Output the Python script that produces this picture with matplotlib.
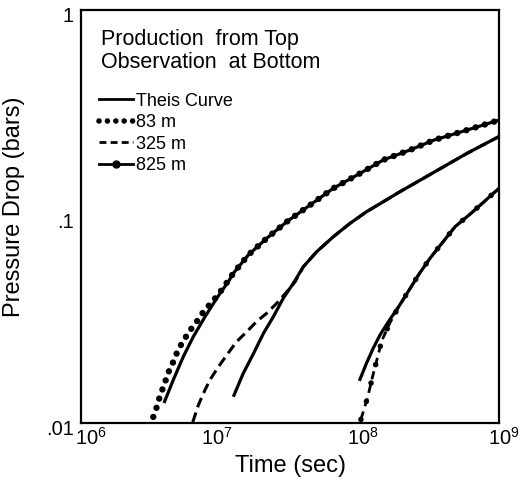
import matplotlib.pyplot as plt
from matplotlib.lines import Line2D
from matplotlib.legend_handler import HandlerTuple
from matplotlib.transforms import ScaledTranslation

plt.rcParams["font.family"] = ["Liberation Sans", "DejaVu Sans"]
plt.rcParams["mathtext.fontset"] = "custom"
plt.rcParams["mathtext.rm"] = "Liberation Sans"

# values (time in sec, pressure drop in bars)
t_83 = [3.30e6, 3.49e6, 3.65e6, 3.86e6, 4.08e6, 4.31e6, 4.60e6, 4.91e6, 5.25e6, 5.67e6, 6.23e6,
        6.84e6, 7.48e6, 8.34e6, 9.31e6, 1.02e7, 1.24e7, 1.59e7, 2.15e7, 3.0e7, 4.41e7, 6.47e7,
        1.01e8, 1.48e8, 2.30e8, 3.38e8, 5.87e8, 1.0e9]
p_83 = [0.0107, 0.0119, 0.0132, 0.0147, 0.0163, 0.0181, 0.0198, 0.0221, 0.0241, 0.0262, 0.0288,
        0.0313, 0.0342, 0.0373, 0.0406, 0.0440, 0.0531, 0.0652, 0.0784, 0.0944, 0.1137, 0.137,
        0.162, 0.188, 0.210, 0.234, 0.262, 0.293]

theis_t_83 = [3.94e6, 4.60e6, 5.43e6, 6.40e6, 7.76e6, 9.42e6, 1.14e7, 1.24e7, 1.59e7, 2.15e7, 3.0e7,
              4.41e7, 6.47e7, 1.01e8, 1.48e8, 2.30e8, 3.38e8, 5.87e8, 1.0e9]
theis_p_83 = [0.0125, 0.0162, 0.0210, 0.0262, 0.0327, 0.0402, 0.0483, 0.0531, 0.0652, 0.0784, 0.0944,
              0.1137, 0.137, 0.162, 0.188, 0.210, 0.234, 0.262, 0.293]

t_325 = [6.34e6, 6.95e6, 7.55e6, 8.43e6, 9.68e6, 1.11e7, 1.31e7, 1.55e7, 1.82e7, 2.15e7, 2.54e7,
         3.0e7, 3.44e7, 3.94e7, 4.92e7, 6.47e7, 8.53e7, 1.12e8, 1.48e8, 1.95e8, 2.72e8, 3.99e8,
         5.87e8, 1.0e9]
p_325 = [0.0101, 0.0122, 0.0139, 0.0162, 0.0187, 0.0213, 0.0248, 0.0277, 0.031, 0.034, 0.038,
         0.0432, 0.0483, 0.0571, 0.0676, 0.0798, 0.0927, 0.1055, 0.118, 0.132, 0.150, 0.174,
         0.202, 0.244]

theis_t_325 = [1.24e7, 1.46e7, 1.73e7, 2.04e7, 2.40e7, 2.83e7, 3.34e7, 3.94e7, 4.92e7, 6.47e7, 8.53e7,
               1.12e8, 1.48e8, 1.95e8, 2.72e8, 3.99e8, 5.87e8, 1.0e9]
theis_p_325 = [0.0134, 0.0174, 0.0217, 0.0272, 0.0327, 0.0402, 0.0475, 0.0571, 0.0676, 0.0798, 0.0927,
               0.1055, 0.118, 0.132, 0.150, 0.174, 0.202, 0.244]

t_825 = [1.02e8, 1.08e8, 1.14e8, 1.23e8, 1.33e8, 1.44e8, 1.65e8, 1.92e8, 2.28e8, 2.69e8, 3.24e8,
         4.84e8, 6.21e8, 7.82e8, 1.0e9]
p_825 = [0.0104, 0.0118, 0.0133, 0.0165, 0.0203, 0.0250, 0.0306, 0.0369, 0.0444, 0.0531, 0.0635,
         0.0893, 0.1028, 0.118, 0.137]

theis_t_825 = [9.95e7, 1.12e8, 1.25e8, 1.40e8, 1.61e8, 1.92e8, 2.28e8, 2.69e8, 3.24e8, 4.84e8, 6.21e8,
               7.82e8, 1.0e9]
theis_p_825 = [0.0160, 0.0195, 0.0230, 0.0267, 0.031, 0.0369, 0.0444, 0.0531, 0.0635, 0.0893, 0.1028,
               0.118, 0.137]

x_ticks = [1e6, 1e7, 1e8, 1e9]
x_labels = [r"$\mathregular{10^6}$", r"$\mathregular{10^7}$", r"$\mathregular{10^8}$", r"$\mathregular{10^9}$"]
y_ticks = [0.01, 0.1, 1]
y_labels = [".01", ".1", "1"]

fig = plt.figure(figsize=(5.27, 4.86), dpi=100)
ax = fig.add_axes([0.1537, 0.1296, 0.7932, 0.8498])
ax.set_xscale("log")
ax.set_yscale("log")

solid = dict(color="black", lw=2.3, solid_capstyle="butt", solid_joinstyle="round")
for tt, pp in [(theis_t_83, theis_p_83), (theis_t_325, theis_p_325), (theis_t_825, theis_p_825)]:
    ax.plot(tt, pp, **solid)

# 83 m: round dots
ax.plot(t_83, p_83, color="black", lw=4.6, ls=(0, (0.01, 1.5)), dash_capstyle="round")
# 325 m: dashed
ax.plot(t_325, p_325, color="black", lw=2.2, ls=(0, (3.3, 1.8)), dash_capstyle="butt")
# 825 m: dashes with dots
ax.plot(t_825, p_825, color="black", lw=2.0, ls=(0, (3.0, 2.0)))
ax.plot(t_825, p_825, color="black", lw=4.0, ls=(0, (0.01, 3.4)), dash_capstyle="round")

ax.set_xlim(1e6, 1e9)
ax.set_ylim(0.01, 1)
ax.set_xticks(x_ticks)
ax.set_xticklabels(x_labels, fontsize=14.5)
ax.set_yticks(y_ticks)
ax.set_yticklabels(y_labels, fontsize=14.5)
ax.minorticks_off()
ax.tick_params(length=0)
ax.tick_params(axis="x", pad=3)
ax.tick_params(axis="y", pad=5)
for lab in ax.get_yticklabels():
    lab.set_transform(lab.get_transform() + ScaledTranslation(0, -4 / 100, fig.dpi_scale_trans))
for lab, dx in zip(ax.get_xticklabels(), [10, -3, 3, 5]):
    lab.set_transform(lab.get_transform() + ScaledTranslation(dx / 100, 0, fig.dpi_scale_trans))
for s in ax.spines.values():
    s.set_linewidth(1.6)

ax.set_xlabel("Time (sec)", fontsize=17, labelpad=4)
ax.set_ylabel("Pressure Drop (bars)", fontsize=17)
ax.yaxis.set_label_coords(-0.134, 0.523)

ax.text(0.048, 0.953, "Production  from Top\nObservation  at Bottom", transform=ax.transAxes,
        fontsize=15.5, va="top", ha="left", linespacing=1.1)

h_theis = Line2D([], [], color="black", lw=2.0)
h_83 = Line2D([], [], color="black", lw=4.0, ls=(0, (0.01, 1.5)), dash_capstyle="round")
h_325 = Line2D([], [], color="black", lw=2.0, ls=(0, (2.5, 1.5)))
h_825a = Line2D([], [], color="black", lw=2.0)
h_825b = Line2D([], [], color="black", marker="o", ms=5, ls="none")
ax.legend([h_theis, h_83, h_325, (h_825a, h_825b)], ["Theis Curve", "83 m", "325 m", "825 m"],
          handler_map={tuple: HandlerTuple(ndivide=1)},
          loc="upper left", bbox_to_anchor=(0.042, 0.80), frameon=False, fontsize=13,
          handlelength=1.9, handletextpad=0.15, labelspacing=0.25, borderpad=0, borderaxespad=0)

fig.savefig("out.png", dpi=100)
